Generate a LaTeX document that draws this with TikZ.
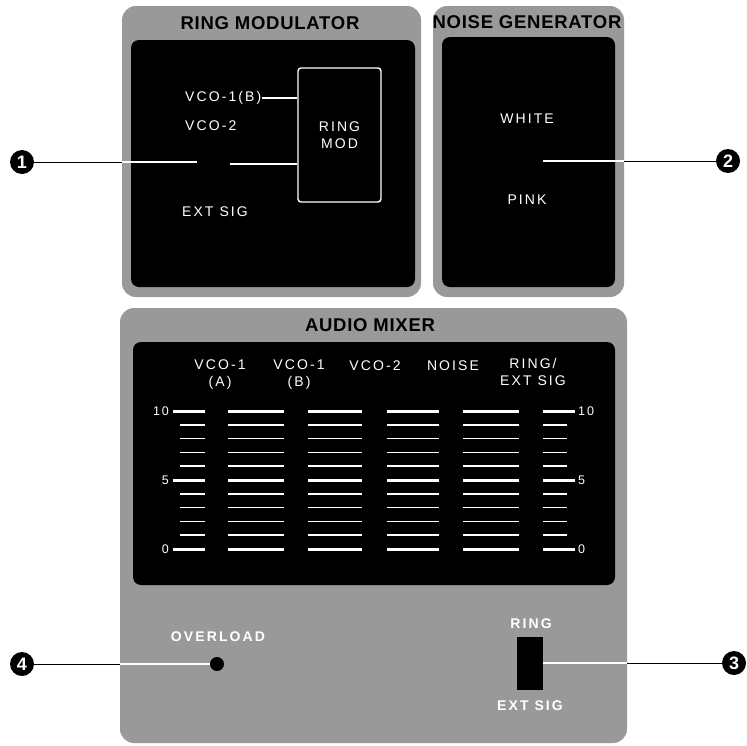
\documentclass[tikz,border=0pt]{standalone}
\usepackage{fontspec}
\setmainfont{Liberation Sans}
\newfontfamily\spaced[LetterSpace=15]{Liberation Sans}
\newfontfamily\titlefont[LetterSpace=4]{Liberation Sans}
\usetikzlibrary{shapes.geometric, calc}
\definecolor{cpanel}{HTML}{999999}
\tikzset{
  every picture/.style={x=1pt, y=-1pt, font=\spaced\fontsize{14}{17}\selectfont},
  panel/.style={fill=cpanel, rounded corners=14pt},
  face/.style={fill=black, rounded corners=8pt},
  title/.style={font=\titlefont\bfseries\fontsize{18.5}{20}\selectfont, text=black, inner sep=0pt},
  lbl/.style={text=white, inner sep=0pt, align=center},
  tag/.style={text=white, inner sep=0pt, font=\spaced\bfseries\fontsize{14}{16}\selectfont},
  tick/.style={text=white, inner sep=0pt, font=\spaced\fontsize{12.5}{13}\selectfont},
  callout/.style={circle, fill=black, text=white, inner sep=0pt, minimum size=24pt, font=\bfseries\fontsize{18}{18}\selectfont},
  wire/.style={draw=white, line width=1.6pt},
  lead/.style={draw=black, line width=0.9pt},
  major/.style={draw=white, line width=3pt},
  minor/.style={draw=white, line width=1.6pt},
}

\begin{document}
\begin{tikzpicture}
  \useasboundingbox (0,0) rectangle (747,745);

  % ring modulator
  \fill[panel] (122,6) rectangle (421,297);
  \fill[face] (131,40) rectangle (415,287);
  \node[title] (trm) at (270,23) {RING MODULATOR};
  \node[lbl, anchor=west] (vcob) at (185,98) {VCO-1(B)};
  \node[lbl, anchor=west] (vco2) at (185,126) {VCO-2};
  \node[lbl] (ext) at (215,212) {EXT SIG};
  \node[draw=white, line width=1.4pt, rounded corners=3pt, minimum width=83pt, minimum height=134pt, lbl] (rmod) at (339.5,135) {RING\\MOD};
  \draw[wire] (vcob.east) -- (vcob.east -| rmod.west);
  \node[callout] (c1) at (22,162) {1};
  \coordinate (e1) at (122,162);
  \coordinate (w1) at (197,162);
  \coordinate (w1b) at (230,164);
  \draw[lead] (c1) -- (e1);
  \draw[wire] (e1) -- (w1);
  \draw[wire] (w1b) -- (w1b -| rmod.west);

  % noise generator
  \fill[panel] (433,6) rectangle (624,297);
  \fill[face] (442,37) rectangle (615,287);
  \node[title] (tng) at (527,22) {NOISE GENERATOR};
  \node[lbl] (white) at (527,119) {WHITE};
  \node[lbl] (pink) at (527,200) {PINK};
  \coordinate (nsw) at (543,161);
  \coordinate (e2) at (624,161);
  \node[callout] (c2) at (728,161) {2};
  \draw[wire] (nsw) -- (e2);
  \draw[lead] (e2) -- (c2);

  % audio mixer
  \fill[panel] (120,308) rectangle (627,743);
  \fill[face] (133,342) rectangle (615,585);
  \node[title] (tam) at (370,325) {AUDIO MIXER};
  \node[lbl] (ch1) at (220,374.5) {VCO-1\\(A)};
  \node[lbl] (ch2) at (299,374.5) {VCO-1\\(B)};
  \node[lbl] (ch3) at (375,366) {VCO-2};
  \node[lbl] (ch4) at (453,366) {NOISE};
  \node[lbl] (ch5) at (533,372) {RING/\\EXT SIG};
  \foreach \xa/\xb/\xc/\xd in {173/205/180/205, 228/284/228/284, 308/362/308/362,
                               387/439/387/439, 463/519/463/519, 543/575/543/567}{
    \foreach \k in {0,5,10}
      \draw[major] (\xa,{549-13.8*\k}) -- (\xb,{549-13.8*\k});
    \foreach \k in {1,2,3,4,6,7,8,9}
      \draw[minor] (\xc,{549-13.8*\k}) -- (\xd,{549-13.8*\k});
  }
  \foreach \k in {0,5,10}{
    \node[tick, anchor=east] (sl\k) at (169,{549-13.8*\k}) {\k};
    \node[tick, anchor=west] (sr\k) at (578,{549-13.8*\k}) {\k};
  }

  % overload lamp
  \node[tag] (ovl) at (218,637) {OVERLOAD};
  \node[circle, fill=black, minimum size=14pt, inner sep=0pt] (led) at (217,664) {};
  \node[callout] (c4) at (22,664) {4};
  \coordinate (e4) at (120,664);
  \draw[lead] (c4) -- (e4);
  \draw[wire] (e4) -- (led.west);

  % ring / ext sig switch
  \node[fill=black, minimum width=26pt, minimum height=53pt, inner sep=0pt] (sw) at (530,663.5) {};
  \node[tag] (sring) at (531,624) {RING};
  \node[tag] (sext) at (530,706) {EXT SIG};
  \node[callout] (c3) at (734,663) {3};
  \coordinate (e3) at (627,663);
  \draw[wire] (sw.east |- e3) -- (e3);
  \draw[lead] (e3) -- (c3);
\end{tikzpicture}
\end{document}
